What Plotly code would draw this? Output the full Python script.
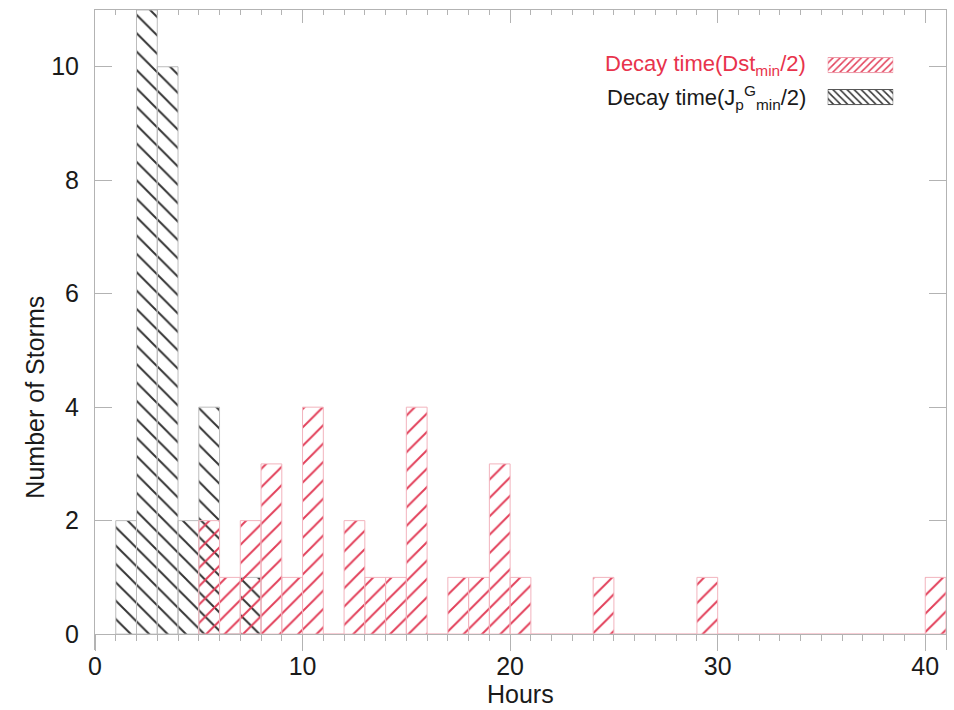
import plotly.graph_objects as go

# ---- data (hour bins, left edges; bin width 1 h) ----
jp_hours = [1, 2, 3, 4, 5, 6, 7]
jp_counts = [2, 11, 10, 2, 4, 0, 1]

dst_hours = list(range(5, 41))
dst_counts = [2, 1, 2, 3, 1, 4, 0, 2, 1, 1, 4, 0, 1, 1, 3, 1, 0, 0, 0, 1,
              0, 0, 0, 0, 1, 0, 0, 0, 0, 0, 0, 0, 0, 0, 0, 1]

legend_labels = ["Decay time(J<sub>p</sub><sup>G</sup><sub>min</sub>/2)",
                 "Decay time(Dst<sub>min</sub>/2)"]
x_ticks = [0, 10, 20, 30, 40]
y_ticks = [0, 2, 4, 6, 8, 10]

RED = "#e2405a"
RED_TXT = "#e8334c"
DARK = "#333333"
AX = "#b3b3b3"
FONT = "Liberation Sans, Arial, Helvetica, sans-serif"
FS = 22
FS_AX = 25

fig = go.Figure()

fig.add_trace(go.Bar(
    x=jp_hours, y=jp_counts, width=1, offset=0,
    marker=dict(color="rgba(0,0,0,0)", line=dict(color="#bcbcbc", width=1),
                pattern=dict(shape="\\", fgcolor=DARK, bgcolor="rgba(0,0,0,0)",
                             size=13, solidity=0.15, fillmode="replace")),
    showlegend=False, hoverinfo="x+y"))

fig.add_trace(go.Bar(
    x=dst_hours, y=dst_counts, width=1, offset=0,
    marker=dict(color="rgba(0,0,0,0)", line=dict(color="#f2b3bd", width=1),
                pattern=dict(shape="/", fgcolor=RED, bgcolor="rgba(0,0,0,0)",
                             size=13, solidity=0.15, fillmode="replace")),
    showlegend=False, hoverinfo="x+y"))

# legend swatches (inset axis)
fig.add_trace(go.Bar(
    x=[1], y=[legend_labels[1]], orientation="h", width=0.47,
    xaxis="x3", yaxis="y3",
    marker=dict(color="rgba(0,0,0,0)", line=dict(color="#ee9aa8", width=1),
                pattern=dict(shape="/", fgcolor=RED, bgcolor="rgba(0,0,0,0)",
                             size=5, solidity=0.3, fillmode="replace")),
    showlegend=False, hoverinfo="skip"))
fig.add_trace(go.Bar(
    x=[1], y=[legend_labels[0]], orientation="h", width=0.47,
    xaxis="x3", yaxis="y3",
    marker=dict(color="rgba(0,0,0,0)", line=dict(color="#555555", width=1),
                pattern=dict(shape="\\", fgcolor=DARK, bgcolor="rgba(0,0,0,0)",
                             size=5, solidity=0.3, fillmode="replace")),
    showlegend=False, hoverinfo="skip"))

# dummy traces so mirrored axes are drawn
fig.add_trace(go.Scatter(x=[None], y=[None], xaxis="x2", yaxis="y", showlegend=False))
fig.add_trace(go.Scatter(x=[None], y=[None], xaxis="x", yaxis="y2", showlegend=False))

xr = [0, 41]
yr = [-0.28, 11]

fig.update_layout(
    width=954, height=710,
    margin=dict(l=95, r=8, t=10, b=60),
    paper_bgcolor="white", plot_bgcolor="white",
    barmode="overlay",
    font=dict(family=FONT, size=FS, color="#1a1a1a"),
    xaxis=dict(range=xr, domain=[0, 1], anchor="free", position=0.28 / 11.28,
               showline=True, linecolor=AX, linewidth=1,
               ticks="outside", ticklen=16, tickcolor=AX, tickwidth=1,
               tickvals=x_ticks, ticktext=[str(v) for v in x_ticks],
               ticklabelstandoff=-6,
               minor=dict(ticks="outside", ticklen=6, dtick=1, tick0=0, tickcolor=AX),
               showgrid=False, zeroline=False, tickfont=dict(size=FS_AX)),
    xaxis2=dict(range=xr, overlaying="x", side="top", anchor="y",
                showline=True, linecolor=AX, linewidth=1,
                ticks="inside", ticklen=13, tickcolor=AX,
                tickvals=x_ticks, showticklabels=False,
                minor=dict(ticks="inside", ticklen=5, dtick=1, tick0=0, tickcolor=AX),
                showgrid=False, zeroline=False),
    yaxis=dict(range=yr, domain=[0, 1], anchor="x",
               showline=True, linecolor=AX, linewidth=1,
               ticks="inside", ticklen=17, tickcolor=AX,
               tickvals=y_ticks, ticktext=[str(v) for v in y_ticks],
               ticklabelstandoff=10,
               showgrid=False, zeroline=False, tickfont=dict(size=FS_AX)),
    yaxis2=dict(range=yr, overlaying="y", side="right", anchor="x",
                showline=True, linecolor=AX, linewidth=1,
                ticks="inside", ticklen=17, tickcolor=AX,
                tickvals=y_ticks, showticklabels=False,
                showgrid=False, zeroline=False),
    xaxis3=dict(domain=[0.861, 0.938], anchor="y3", range=[0, 1], visible=False),
    yaxis3=dict(domain=[0.839, 0.939], anchor="x3", visible=False,
                categoryorder="array", categoryarray=legend_labels),
    annotations=[
        dict(text=legend_labels[1], xref="paper", yref="paper", x=0.838, y=0.914,
             xanchor="right", yanchor="middle", showarrow=False,
             font=dict(color=RED_TXT, size=FS)),
        dict(text=legend_labels[0], xref="paper", yref="paper", x=0.838, y=0.864,
             xanchor="right", yanchor="middle", showarrow=False,
             font=dict(color="#1a1a1a", size=FS)),
        dict(text="Hours", xref="paper", yref="paper", x=0.5, y=-0.069,
             xanchor="center", yanchor="middle", showarrow=False, font=dict(size=FS_AX)),
        dict(text="Number of Storms", xref="paper", yref="paper", x=-0.07, y=0.395,
             xanchor="center", yanchor="middle", showarrow=False, textangle=-90,
             font=dict(size=FS_AX)),
    ],
)

fig.write_html("out.html")
